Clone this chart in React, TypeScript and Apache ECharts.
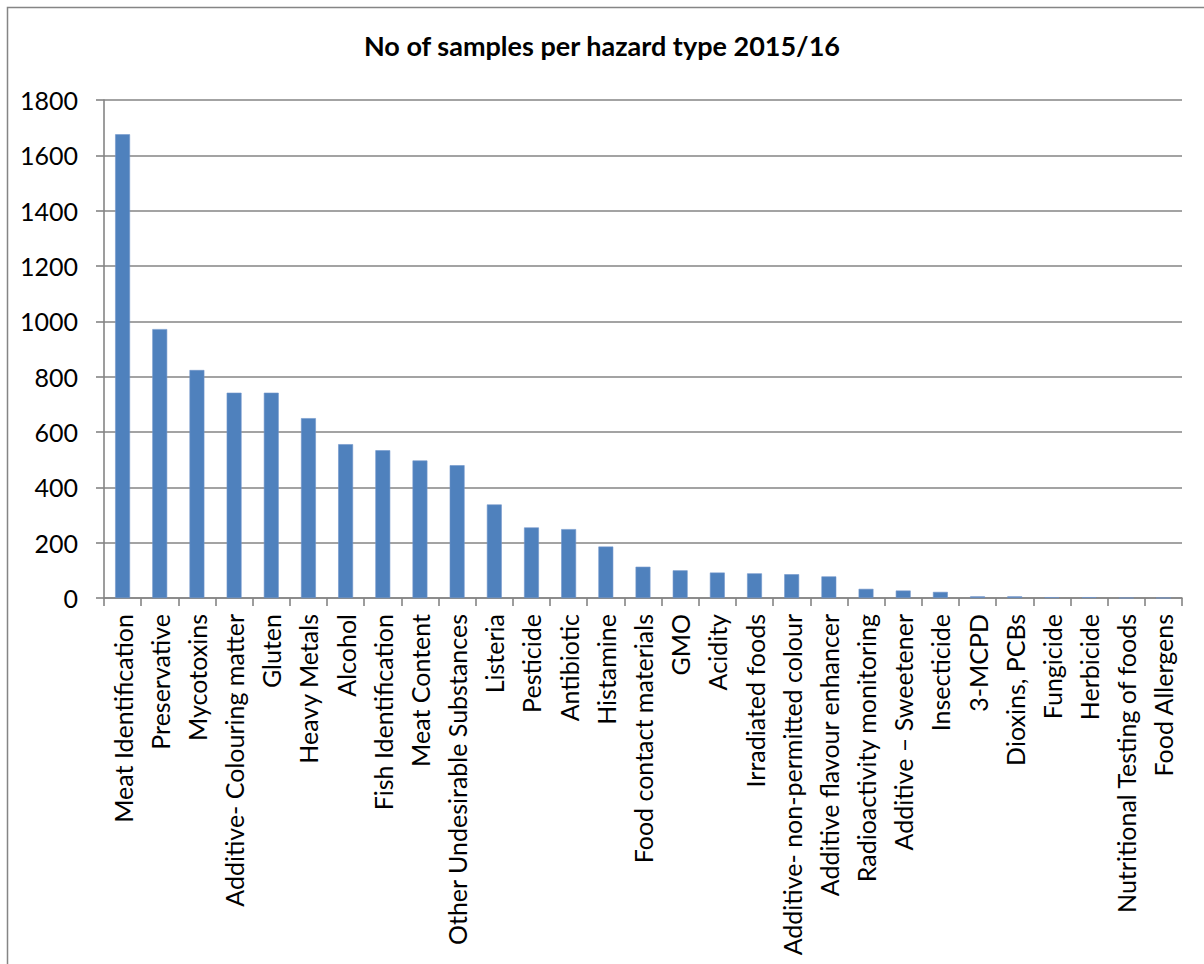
import React, { useEffect, useRef } from "react";
import * as echarts from "echarts";

const titleText = "No of samples per hazard type 2015/16";

const hazardTypes = [
  "Meat Identification",
  "Preservative",
  "Mycotoxins",
  "Additive- Colouring matter",
  "Gluten",
  "Heavy Metals",
  "Alcohol",
  "Fish Identification",
  "Meat Content",
  "Other Undesirable Substances",
  "Listeria",
  "Pesticide",
  "Antibiotic",
  "Histamine",
  "Food contact materials",
  "GMO",
  "Acidity",
  "Irradiated foods",
  "Additive- non-permitted colour",
  "Additive flavour enhancer",
  "Radioactivity monitoring",
  "Additive – Sweetener",
  "Insecticide",
  "3-MCPD",
  "Dioxins, PCBs",
  "Fungicide",
  "Herbicide",
  "Nutritional Testing of foods",
  "Food Allergens",
];

const sampleCounts = [
  1676, 972, 824, 742, 742, 650, 556, 534, 497, 480, 338, 255, 249, 186, 113,
  100, 92, 89, 86, 78, 33, 27, 22, 6, 6, 3, 3, 0, 0,
];

const yTicks = { min: 0, max: 1800, interval: 200 };

const FONT = "Lato, 'Open Sans', sans-serif";
const LINE = "#858585";
const BAR = "#4F81BD";

export default function App() {
  const ref = useRef<HTMLDivElement>(null);

  useEffect(() => {
    if (!ref.current) return;
    const chart = echarts.init(ref.current, undefined, { renderer: "svg" });
    chart.setOption({
      animation: false,
      backgroundColor: "#ffffff",
      title: {
        text: titleText,
        left: 597,
        textAlign: "center",
        top: 27,
        textStyle: {
          fontFamily: FONT,
          fontWeight: "bold",
          fontSize: 27,
          color: "#000000",
        },
      },
      graphic: [
        {
          type: "rect",
          shape: { x: 7.5, y: 7.5, width: 1300, height: 1100 },
          style: { fill: "none", stroke: LINE, lineWidth: 1.5 },
          silent: true,
          z: 0,
        },
      ],
      grid: { left: 104, right: 22, top: 100, bottom: 366, containLabel: false },
      xAxis: {
        type: "category",
        data: hazardTypes,
        boundaryGap: true,
        axisLine: { show: true, lineStyle: { color: LINE, width: 1.6 } },
        axisTick: {
          show: true,
          interval: 0,
          length: 8,
          lineStyle: { color: LINE, width: 1.6 },
        },
        axisLabel: {
          interval: 0,
          rotate: 90,
          margin: 16,
          fontFamily: FONT,
          fontSize: 25,
          color: "#000000",
        },
        splitLine: { show: false },
      },
      yAxis: {
        type: "value",
        min: yTicks.min,
        max: yTicks.max,
        interval: yTicks.interval,
        axisLine: { show: true, lineStyle: { color: LINE, width: 1.6 } },
        axisTick: { show: true, length: 8, lineStyle: { color: LINE, width: 1.6 } },
        axisLabel: {
          margin: 26,
          fontFamily: FONT,
          fontSize: 25,
          color: "#000000",
          formatter: (v: number) => String(v),
        },
        splitLine: { show: true, lineStyle: { color: LINE, width: 1.6 } },
      },
      series: [
        {
          type: "bar",
          data: sampleCounts,
          barCategoryGap: "60%",
          itemStyle: { color: BAR, borderColor: "#7096cb", borderWidth: 0.6 },
        },
      ],
    });
    return () => chart.dispose();
  }, []);

  return (
    <div
      ref={ref}
      style={{ position: "fixed", left: 0, top: 0, width: 1204, height: 964 }}
    />
  );
}
